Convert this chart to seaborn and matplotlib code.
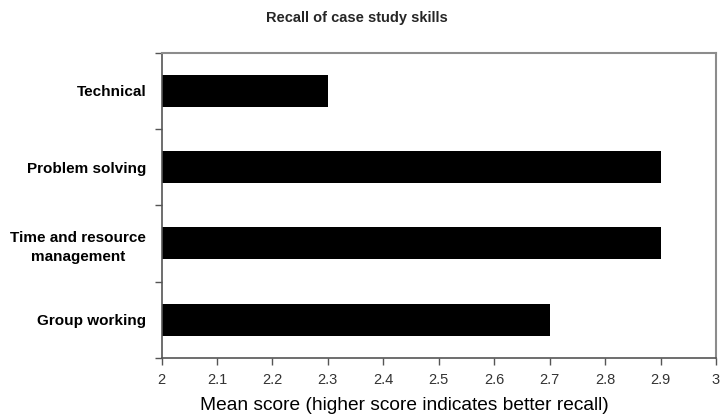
import matplotlib
matplotlib.use("Agg")
import matplotlib.pyplot as plt
import seaborn as sns
import pandas as pd
import numpy as np

categories = ["Technical", "Problem solving", "Time and resource\nmanagement", "Group working"]
scores = [2.3, 2.9, 2.9, 2.7]
xticks = [2, 2.1, 2.2, 2.3, 2.4, 2.5, 2.6, 2.7, 2.8, 2.9, 3]
xtick_labels = ["2", "2.1", "2.2", "2.3", "2.4", "2.5", "2.6", "2.7", "2.8", "2.9", "3"]

sns.set_theme(style="white")
plt.rcParams["font.family"] = ["Liberation Sans", "DejaVu Sans"]

df = pd.DataFrame({"skill": categories, "score": scores})

fig = plt.figure(figsize=(7.23, 4.16), dpi=100)
ax = fig.add_axes([161.5 / 723, 1 - 358 / 416, (716 - 161.5) / 723, (358 - 52.5) / 416])

sns.barplot(data=df, x="score", y="skill", orient="h", color="black",
            saturation=1, width=0.42, ax=ax, edgecolor="black", linewidth=0)

ax.set_xlim(2, 3)
ax.set_ylim(3.5, -0.5)
ax.set_xticks(xticks)
ax.set_xticklabels(xtick_labels, fontsize=10.5, color="#333333")
ax.set_yticks([-0.5, 0.5, 1.5, 2.5, 3.5], minor=False)
ax.set_yticklabels([])
ax.set_yticks(range(len(categories)), minor=True)
ax.set_yticklabels(categories, minor=True, fontsize=11, fontweight="bold",
                   multialignment="center", linespacing=1.5, color="black")
ax.tick_params(axis="y", which="minor", length=0, pad=11)
ax.tick_params(axis="y", which="major", length=5, width=1, color="#555555", direction="out", left=True)
ax.tick_params(axis="x", which="major", length=5, width=1, color="#555555", direction="out", bottom=True, pad=6)

for side in ["left", "bottom"]:
    ax.spines[side].set_color("#555555")
    ax.spines[side].set_linewidth(1.2)
for side in ["top", "right"]:
    ax.spines[side].set_color("#8c8c8c")
    ax.spines[side].set_linewidth(1.5)

ax.set_ylabel("")
ax.set_xlabel("Mean score (higher score indicates better recall)", fontsize=13.8, color="black")
ax.xaxis.set_label_coords((404 - 161.5) / 554.5, -0.128)
fig.text(357 / 723, 1 - 18 / 416, "Recall of case study skills",
         ha="center", va="center", fontsize=10.5, fontweight="bold")

fig.savefig("out.png", dpi=100)
